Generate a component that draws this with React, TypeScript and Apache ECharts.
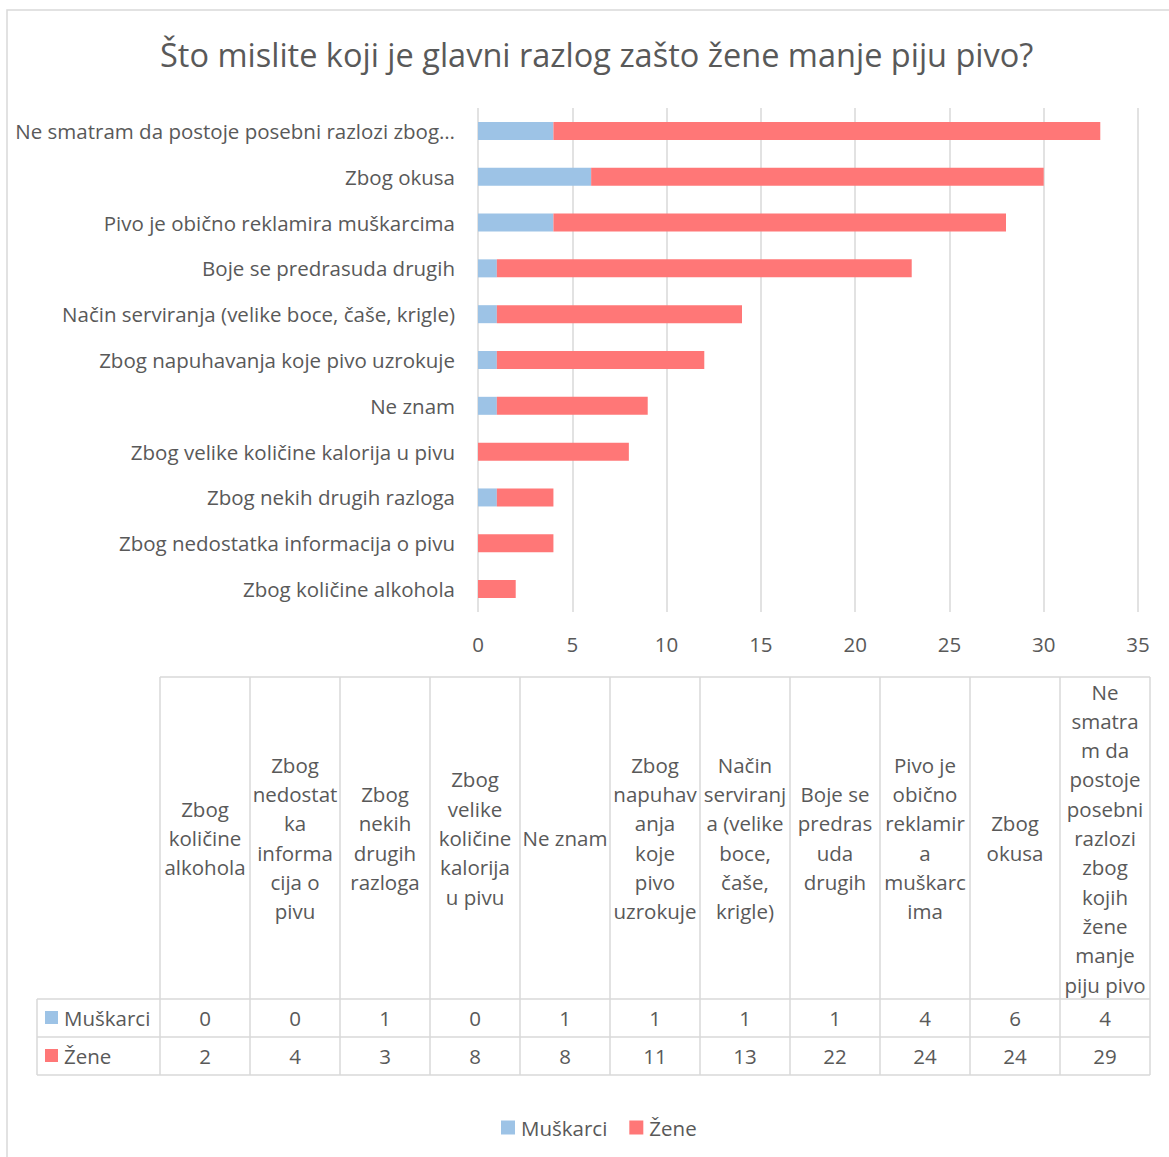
import React, { useEffect, useRef } from "react";
import * as echarts from "echarts";

const title = "Što mislite koji je glavni razlog zašto žene manje piju pivo?";

// categories ordered as in the data table (bottom bar first)
const categories = [
  "Zbog količine alkohola",
  "Zbog nedostatka informacija o pivu",
  "Zbog nekih drugih razloga",
  "Zbog velike količine kalorija u pivu",
  "Ne znam",
  "Zbog napuhavanja koje pivo uzrokuje",
  "Način serviranja (velike boce, čaše, krigle)",
  "Boje se predrasuda drugih",
  "Pivo je obično reklamira muškarcima",
  "Zbog okusa",
  "Ne smatram da postoje posebni razlozi zbog kojih žene manje piju pivo",
];

// table header labels, wrapped as in the reference table
const tableHeaders = [
  "Zbog\nkoličine\nalkohola",
  "Zbog\nnedostat\nka\ninforma\ncija o\npivu",
  "Zbog\nnekih\ndrugih\nrazloga",
  "Zbog\nvelike\nkoličine\nkalorija\nu pivu",
  "Ne znam",
  "Zbog\nnapuhav\nanja\nkoje\npivo\nuzrokuje",
  "Način\nserviranj\na (velike\nboce,\nčaše,\nkrigle)",
  "Boje se\npredras\nuda\ndrugih",
  "Pivo je\nobično\nreklamir\na\nmuškarc\nima",
  "Zbog\nokusa",
  "Ne\nsmatra\nm da\npostoje\nposebni\nrazlozi\nzbog\nkojih\nžene\nmanje\npiju pivo",
];

const seriesNames = ["Muškarci", "Žene"];
const muskarci = [0, 0, 1, 0, 1, 1, 1, 1, 4, 6, 4];
const zene = [2, 4, 3, 8, 8, 11, 13, 22, 24, 24, 29];

const xTicks = { min: 0, max: 35, interval: 5 };

const COLORS = ["#9DC3E6", "#FF7777"];
const TEXT = "#595959";
const GRID = "#D9D9D9";
const FONT = "Open Sans";
const FS = 20.5;

let measureCtx: CanvasRenderingContext2D | null = null;
function textWidth(s: string, font: string) {
  if (!measureCtx) measureCtx = document.createElement("canvas").getContext("2d");
  if (!measureCtx) return s.length * 10;
  measureCtx.font = font;
  return measureCtx.measureText(s).width;
}

function truncateWords(s: string, maxW: number, font: string) {
  if (textWidth(s, font) <= maxW) return s;
  const words = s.split(" ");
  let out = "";
  for (const w of words) {
    const cand = out ? out + " " + w : w;
    if (textWidth(cand + "…", font) > maxW) break;
    out = cand;
  }
  return out.trimEnd() + "…";
}

export default function App() {
  const ref = useRef<HTMLDivElement>(null);

  useEffect(() => {
    if (!ref.current) return;
    const chart = echarts.init(ref.current, null, { renderer: "svg" });

    // table geometry
    const tLeft = 160;
    const colW = 90;
    const nCols = categories.length;
    const tRight = tLeft + colW * nCols;
    const hTop = 677;
    const hBottom = 999;
    const rowH = 38;
    const keyLeft = 37;
    const rows = [muskarci, zene];

    const lineStyle = { stroke: GRID, lineWidth: 1.5 };
    const elements: any[] = [];

    // outer chart border
    elements.push({
      type: "rect",
      shape: { x: 7, y: 10, width: 1300, height: 1300 },
      style: { fill: "none", stroke: GRID, lineWidth: 1.5 },
      silent: true,
    });

    // vertical lines
    for (let i = 0; i <= nCols; i++) {
      const x = tLeft + i * colW;
      elements.push({
        type: "line",
        shape: { x1: x, y1: hTop, x2: x, y2: hBottom + rowH * rows.length },
        style: lineStyle,
      });
    }
    elements.push({
      type: "line",
      shape: { x1: keyLeft, y1: hBottom, x2: keyLeft, y2: hBottom + rowH * rows.length },
      style: lineStyle,
    });
    // horizontal lines
    elements.push({
      type: "line",
      shape: { x1: tLeft, y1: hTop, x2: tRight, y2: hTop },
      style: lineStyle,
    });
    for (let r = 0; r <= rows.length; r++) {
      const y = hBottom + r * rowH;
      elements.push({
        type: "line",
        shape: { x1: keyLeft, y1: y, x2: tRight, y2: y },
        style: lineStyle,
      });
    }
    // headers
    tableHeaders.forEach((h, i) => {
      elements.push({
        type: "text",
        x: tLeft + colW * i + colW / 2,
        y: (hTop + hBottom) / 2,
        style: {
          text: h,
          fill: TEXT,
          fontFamily: FONT,
          fontSize: FS,
          lineHeight: 29.3,
          align: "center",
          verticalAlign: "middle",
        },
      });
    });
    // row keys and values
    rows.forEach((vals, r) => {
      const cy = hBottom + r * rowH + rowH / 2;
      elements.push({
        type: "rect",
        shape: { x: 45, y: cy - 7, width: 13, height: 13 },
        style: { fill: COLORS[r] },
      });
      elements.push({
        type: "text",
        x: 64,
        y: cy,
        style: {
          text: seriesNames[r],
          fill: TEXT,
          fontFamily: FONT,
          fontSize: FS,
          align: "left",
          verticalAlign: "middle",
        },
      });
      vals.forEach((v, i) => {
        elements.push({
          type: "text",
          x: tLeft + colW * i + colW / 2,
          y: cy,
          style: {
            text: String(v),
            fill: TEXT,
            fontFamily: FONT,
            fontSize: FS,
            align: "center",
            verticalAlign: "middle",
          },
        });
      });
    });

    const labelFont = `${FS}px "${FONT}"`;

    chart.setOption({
      animation: false,
      backgroundColor: "#ffffff",
      title: {
        text: title,
        left: 155,
        top: 33,
        textStyle: {
          fontFamily: FONT,
          fontSize: 32.5,
          fontWeight: "normal",
          color: TEXT,
        },
      },
      legend: {
        data: seriesNames,
        left: 496,
        top: 1112,
        icon: "rect",
        itemWidth: 14,
        itemHeight: 14,
        itemGap: 22,
        textStyle: { fontFamily: FONT, fontSize: FS, color: TEXT, padding: [0, 0, 0, 1] },
      },
      grid: { left: 478, right: 31, top: 108, bottom: 545, containLabel: false },
      xAxis: {
        type: "value",
        min: xTicks.min,
        max: xTicks.max,
        interval: xTicks.interval,
        axisLine: { show: false },
        axisTick: { show: false },
        axisLabel: { fontFamily: FONT, fontSize: FS, color: TEXT, margin: 21 },
        splitLine: { show: true, lineStyle: { color: GRID, width: 1.5 } },
      },
      yAxis: {
        type: "category",
        data: categories,
        axisLine: { show: false },
        axisTick: { show: false },
        axisLabel: {
          fontFamily: FONT,
          fontSize: FS,
          color: TEXT,
          margin: 23,
          formatter: (v: string) => truncateWords(v, 448, labelFont),
        },
      },
      series: seriesNames.map((name, i) => ({
        name,
        type: "bar",
        stack: "total",
        data: i === 0 ? muskarci : zene,
        barWidth: 18,
        itemStyle: { color: COLORS[i] },
      })),
      graphic: { elements },
    });

    return () => chart.dispose();
  }, []);

  return (
    <div
      ref={ref}
      style={{ position: "absolute", left: 0, top: 0, width: 1169, height: 1157 }}
    />
  );
}
